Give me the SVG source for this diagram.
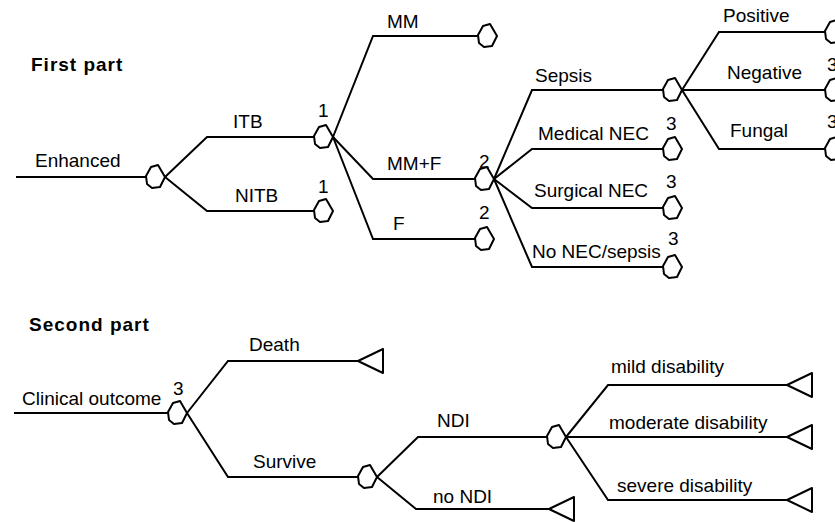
<svg xmlns="http://www.w3.org/2000/svg" xmlns:xlink="http://www.w3.org/1999/xlink" width="835" height="522" viewBox="0 0 835 522">
<style>
  .ln { fill: none; stroke: #000; stroke-width: 2; stroke-linejoin: miter; }
  .nd { fill: #fff; stroke: #000; stroke-width: 2; stroke-linejoin: round; }
  text { font-family: "Liberation Sans", Arial, sans-serif; font-size: 19px; fill: #000; }
  .hd { font-weight: bold; letter-spacing: 1px; }
</style>
<defs>
  <path id="chance" d="M0,0 L-7,-12 L-14,-10 L-19,-1 L-18,7 L-13,11 L-5,10 Z"/>
  <path id="term" d="M0,0 L25,-12 L25,12 Z"/>
</defs>
<rect width="835" height="522" fill="#fff"/>

<text class="hd" x="31" y="71">First part</text>
<text class="hd" x="29" y="331">Second part</text>

<g id="connectors">
  <path class="ln" d="M16,177 H147"/>
  <path class="ln" d="M165,177 L207,137 H314"/>
  <path class="ln" d="M165,177 L207,211 H314"/>
  <path class="ln" d="M333,137 L373,36 H478"/>
  <path class="ln" d="M333,137 L373,179 H475"/>
  <path class="ln" d="M333,137 L373,239 H475"/>
  <path class="ln" d="M494,179 L532,90 H663"/>
  <path class="ln" d="M494,179 L532,149 H663"/>
  <path class="ln" d="M494,179 L532,208 H663"/>
  <path class="ln" d="M494,179 L532,267 H663"/>
  <path class="ln" d="M682,90 L719,32 H825"/>
  <path class="ln" d="M682,90 H825"/>
  <path class="ln" d="M682,90 L719,149 H825"/>
  <path class="ln" d="M14,413 H168"/>
  <path class="ln" d="M187,413 L228,361 H358"/>
  <path class="ln" d="M187,413 L228,477 H358"/>
  <path class="ln" d="M377,477 L418,437 H547"/>
  <path class="ln" d="M377,477 L416,509 H549"/>
  <path class="ln" d="M566,437 L608,385 H787"/>
  <path class="ln" d="M566,437 H787"/>
  <path class="ln" d="M566,437 L608,500 H787"/>
</g>

<g id="labels">
  <text x="35" y="167">Enhanced</text>
  <text x="233" y="128">ITB</text>
  <text x="235" y="202">NITB</text>
  <text x="387" y="28">MM</text>
  <text x="387" y="170">MM+F</text>
  <text x="393" y="230">F</text>
  <text x="535" y="82">Sepsis</text>
  <text x="538" y="140">Medical NEC</text>
  <text x="534" y="197">Surgical NEC</text>
  <text x="532" y="258">No NEC/sepsis</text>
  <text x="723" y="22">Positive</text>
  <text x="727" y="79">Negative</text>
  <text x="730" y="137">Fungal</text>
  <text x="22" y="405">Clinical outcome</text>
  <text x="249" y="351">Death</text>
  <text x="253" y="468">Survive</text>
  <text x="437" y="427">NDI</text>
  <text x="433" y="503">no NDI</text>
  <text x="611" y="373">mild disability</text>
  <text x="609" y="429">moderate disability</text>
  <text x="617" y="492">severe disability</text>
</g>

<g id="node-enhanced"><use href="#chance" class="nd" x="165" y="177"/></g>
<g id="node-itb"><use href="#chance" class="nd" x="333" y="137"/><text x="318" y="117">1</text></g>
<g id="node-nitb"><use href="#chance" class="nd" x="333" y="211"/><text x="318" y="193">1</text></g>
<g id="node-mm"><use href="#chance" class="nd" x="497" y="36"/></g>
<g id="node-mmf"><use href="#chance" class="nd" x="494" y="179"/><text x="479" y="168">2</text></g>
<g id="node-f"><use href="#chance" class="nd" x="494" y="239"/><text x="479" y="219">2</text></g>
<g id="node-sepsis"><use href="#chance" class="nd" x="682" y="90"/></g>
<g id="node-mednec"><use href="#chance" class="nd" x="682" y="149"/><text x="666" y="130">3</text></g>
<g id="node-surgnec"><use href="#chance" class="nd" x="682" y="208"/><text x="666" y="188">3</text></g>
<g id="node-nonec"><use href="#chance" class="nd" x="682" y="267"/><text x="668" y="245">3</text></g>
<g id="node-positive"><use href="#chance" class="nd" x="844" y="32"/></g>
<g id="node-negative"><use href="#chance" class="nd" x="844" y="90"/><text x="827" y="71">3</text></g>
<g id="node-fungal"><use href="#chance" class="nd" x="844" y="149"/><text x="827" y="128">3</text></g>
<g id="node-clinical"><use href="#chance" class="nd" x="187" y="413"/><text x="173" y="395">3</text></g>
<g id="node-death"><use href="#term" class="nd" x="358" y="361"/></g>
<g id="node-survive"><use href="#chance" class="nd" x="377" y="477"/></g>
<g id="node-ndi"><use href="#chance" class="nd" x="566" y="437"/></g>
<g id="node-nondi"><use href="#term" class="nd" x="549" y="509"/></g>
<g id="node-mild"><use href="#term" class="nd" x="787" y="385"/></g>
<g id="node-moderate"><use href="#term" class="nd" x="787" y="437"/></g>
<g id="node-severe"><use href="#term" class="nd" x="787" y="500"/></g>
</svg>
